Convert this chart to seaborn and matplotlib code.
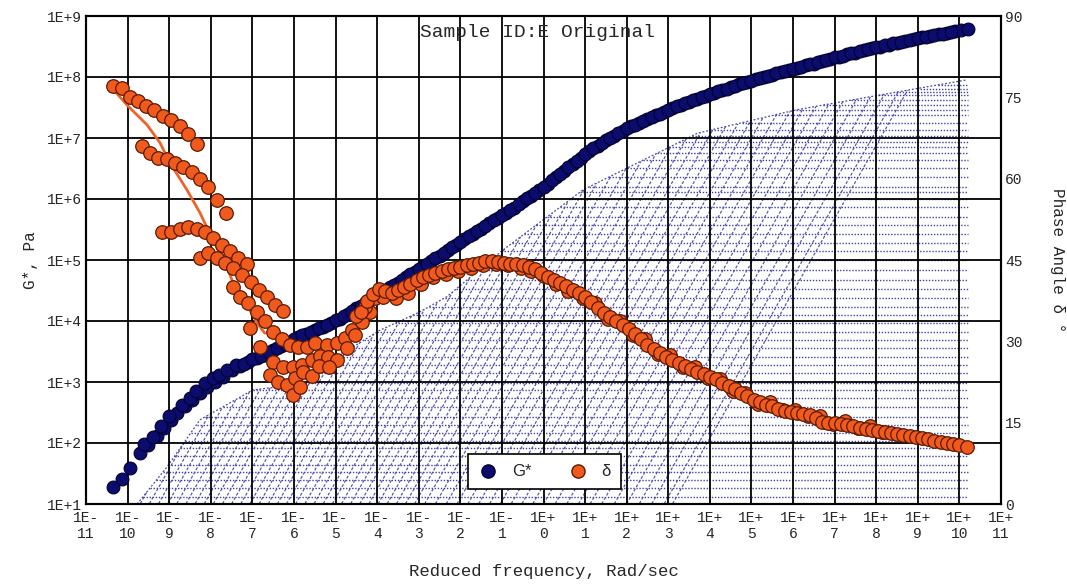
import numpy as np
import matplotlib
matplotlib.use("Agg")
import matplotlib.pyplot as plt
from matplotlib.lines import Line2D
import seaborn as sns
import pandas as pd

# ---------------- data (log10 values) ----------------
gstar_logf = [-10.35, -10.13, -9.94, -9.70, -9.50, -9.30, -9.12, -8.95, -8.80, -8.62,
              -8.45, -8.26, -8.08, -7.90, -7.70, -7.50, -7.30, -7.10, -6.90, -6.70,
              -6.50, -6.30, -6.10, -5.90, -5.70, -5.50, -5.30, -5.10, -4.90, -4.70,
              -4.50, -4.30, -4.10, -3.90, -3.70, -3.50, -3.30, -3.10, -2.90, -2.70,
              -2.50, -2.30, -2.10, -1.90, -1.70, -1.50, -1.30, -1.10, -0.90, -0.70,
              -0.50, -0.30, -0.10, 0.10, 0.30, 0.50, 0.70, 0.90, 1.10, 1.30,
              1.50, 1.70, 1.90, 2.10, 2.30, 2.50, 2.70, 2.90, 3.10, 3.30,
              3.50, 3.70, 3.90, 4.10, 4.30, 4.50, 4.70, 4.90, 5.10, 5.30,
              5.50, 5.70, 5.90, 6.10, 6.30, 6.50, 6.70, 6.90, 7.10, 7.30,
              7.50, 7.70, 7.90, 8.10, 8.30, 8.50, 8.70, 8.90, 9.10, 9.30,
              9.50, 9.70, 9.90, 10.05, 10.20]
gstar_logG = [1.28, 1.41, 1.59, 1.84, 1.97, 2.11, 2.24, 2.38, 2.50, 2.60,
              2.71, 2.82, 2.91, 3.00, 3.09, 3.19, 3.26, 3.32, 3.39, 3.45,
              3.52, 3.59, 3.66, 3.73, 3.79, 3.85, 3.90, 3.96, 4.04, 4.12,
              4.21, 4.29, 4.38, 4.46, 4.55, 4.63, 4.72, 4.81, 4.90, 4.98,
              5.07, 5.16, 5.25, 5.34, 5.43, 5.51, 5.60, 5.69, 5.77, 5.86,
              5.96, 6.05, 6.15, 6.25, 6.36, 6.46, 6.57, 6.68, 6.78, 6.87,
              6.96, 7.04, 7.12, 7.19, 7.25, 7.31, 7.37, 7.43, 7.49, 7.54,
              7.59, 7.64, 7.69, 7.74, 7.79, 7.83, 7.88, 7.92, 7.96, 8.00,
              8.04, 8.08, 8.11, 8.15, 8.19, 8.22, 8.26, 8.30, 8.33, 8.37,
              8.40, 8.44, 8.47, 8.50, 8.53, 8.56, 8.59, 8.62, 8.65, 8.67,
              8.70, 8.72, 8.75, 8.77, 8.79]
# second, overlapping row of G* measurements (other temperatures)
gstar2_logf = [-9.60, -9.40, -9.20, -9.00, -8.70, -8.50, -8.35, -8.15, -7.95, -7.80,
               -7.60, -7.40, -7.20, -7.00, -6.80, -6.60, -6.40, -6.20, -6.00, -5.80,
               -5.60, -5.40, -5.20, -5.00, -4.80, -4.60, -4.40, -4.20, -4.00, -3.80,
               -3.60, -3.40, -3.20, -3.00, -2.80, -2.60, -2.40, -2.20, -2.00, -1.80,
               -1.60, -1.40, -1.20, -1.00, -0.80, -0.60, -0.40, -0.20, 0.00, 0.20,
               0.40, 0.60, 0.80, 1.00, 1.20, 1.40, 1.60, 1.80, 2.00, 2.20,
               2.40, 2.60, 2.80, 3.00, 3.20, 3.40, 3.60, 3.80, 4.00, 4.20,
               4.40, 4.60, 4.80, 5.00, 5.20, 5.40, 5.60, 5.80, 6.00, 6.20,
               6.40, 6.60, 6.80, 7.00, 7.20, 7.40, 7.60, 7.80, 8.00, 8.20,
               8.40, 8.60, 8.80, 9.00, 9.20, 9.40, 9.60, 9.80]
gstar2_logG = [1.98, 2.10, 2.28, 2.45, 2.62, 2.74, 2.86, 2.98, 3.06, 3.12,
               3.20, 3.28, 3.30, 3.37, 3.43, 3.49, 3.56, 3.63, 3.70, 3.77,
               3.82, 3.88, 3.94, 4.01, 4.08, 4.17, 4.25, 4.34, 4.42, 4.51,
               4.59, 4.68, 4.77, 4.86, 4.94, 5.03, 5.12, 5.21, 5.30, 5.39,
               5.47, 5.56, 5.65, 5.73, 5.82, 5.91, 6.01, 6.10, 6.20, 6.31,
               6.41, 6.52, 6.63, 6.73, 6.83, 6.92, 7.00, 7.08, 7.16, 7.22,
               7.28, 7.34, 7.40, 7.46, 7.52, 7.57, 7.62, 7.67, 7.72, 7.77,
               7.81, 7.86, 7.90, 7.94, 7.98, 8.02, 8.06, 8.10, 8.13, 8.17,
               8.21, 8.24, 8.28, 8.32, 8.35, 8.39, 8.42, 8.46, 8.49, 8.52,
               8.55, 8.58, 8.61, 8.64, 8.66, 8.69, 8.71, 8.74]

# phase angle branches (log10 frequency, degrees)
dA_logf = [-10.35, -10.13, -9.94, -9.74, -9.56, -9.36, -9.15, -8.96, -8.74, -8.55, -8.33]
dA_deg = [77.1, 76.7, 75.1, 74.3, 73.4, 72.7, 71.6, 70.9, 69.8, 68.3, 66.4]
dB_logf = [-9.66, -9.47, -9.27, -9.05, -8.86, -8.67, -8.45, -8.26, -8.07, -7.85, -7.63]
dB_deg = [66.1, 64.8, 63.9, 63.7, 62.9, 62.2, 61.3, 60.0, 58.4, 56.1, 53.7]
dC_logf = [-9.17, -8.96, -8.74, -8.55, -8.33, -8.14, -7.94, -7.73, -7.54, -7.35, -7.13]
dC_deg = [50.2, 50.2, 50.8, 51.0, 50.8, 50.2, 49.1, 47.8, 46.6, 45.4, 44.2]
dD_logf = [-8.26, -8.07, -7.85, -7.66, -7.47, -7.25, -7.03, -6.84, -6.65, -6.46, -6.26]
dD_deg = [45.4, 46.2, 45.4, 44.5, 43.6, 42.3, 40.9, 39.4, 38.1, 36.7, 35.6]
dE_logf = [-7.47, -7.30, -7.11, -6.89, -6.70, -6.50, -6.29, -6.10, -5.90, -5.69,
           -5.50, -5.21, -4.97, -4.77, -4.61]
dE_deg = [40.0, 38.2, 37.1, 35.4, 33.7, 31.7, 30.4, 29.3, 29.0, 29.0,
          29.7, 29.3, 29.7, 30.6, 32.1]
dF_logf = [-7.06, -6.82, -6.50, -6.26, -6.02, -5.81, -5.57, -5.37, -5.18, -4.97,
           -4.73, -4.53, -4.37, -4.17]
dF_deg = [32.5, 29.0, 26.2, 25.3, 25.3, 25.6, 26.6, 27.3, 27.1, 26.6,
          28.8, 31.2, 33.6, 35.4]
dG_logf = [-6.58, -6.38, -6.17, -6.02, -5.98, -5.86, -5.78, -5.57, -5.40, -5.16]
dG_deg = [23.8, 22.5, 21.9, 20.1, 23.2, 21.6, 24.3, 23.6, 25.4, 25.3]
dH_logf = [-4.40, -4.25, -4.10, -3.95, -3.80, -3.65, -3.50, -3.35, -3.20, -3.05,
           -2.90, -2.75, -2.60, -2.45, -2.30, -2.15, -2.00, -1.85, -1.70, -1.55,
           -1.40, -1.25, -1.10, -0.95, -0.80, -0.65, -0.50, -0.35, -0.20, -0.05,
           0.10, 0.25, 0.40, 0.55, 0.70, 0.85, 1.00, 1.15, 1.30, 1.45,
           1.60, 1.75, 1.90, 2.05, 2.20, 2.35, 2.50, 2.65, 2.80, 2.95,
           3.10, 3.25, 3.40, 3.55, 3.70, 3.85, 4.00, 4.15, 4.30, 4.45,
           4.60, 4.75, 4.90, 5.05, 5.20, 5.35, 5.50, 5.65, 5.80, 5.95,
           6.10, 6.25, 6.40, 6.55, 6.70, 6.85, 7.00, 7.15, 7.30, 7.45,
           7.60, 7.75, 7.90, 8.05, 8.20, 8.35, 8.50, 8.65, 8.80, 8.95,
           9.10, 9.25, 9.40, 9.55, 9.70, 9.85, 10.00, 10.18]
dH_deg = [35.5, 37.5, 38.8, 39.6, 39.2, 38.9, 39.4, 40.0, 40.6, 41.3,
          41.8, 42.2, 42.6, 43.0, 43.3, 43.6, 43.8, 44.0, 44.2, 44.5,
          44.8, 44.9, 44.7, 44.5, 44.3, 44.2, 44.0, 43.8, 43.3, 42.6,
          41.9, 41.3, 40.8, 40.2, 39.5, 38.9, 38.2, 37.2, 36.1, 35.2,
          34.5, 33.8, 33.1, 32.2, 31.4, 30.5, 29.4, 28.6, 27.9, 27.2,
          26.6, 26.0, 25.4, 24.9, 24.4, 23.9, 23.4, 23.0, 22.4, 21.8,
          21.2, 20.5, 19.9, 19.2, 18.8, 18.3, 18.0, 17.6, 17.2, 17.0,
          16.8, 16.6, 16.4, 15.8, 15.2, 15.0, 15.0, 14.8, 14.6, 14.3,
          14.1, 13.9, 13.6, 13.4, 13.3, 13.1, 12.9, 12.8, 12.6, 12.4,
          12.2, 11.9, 11.6, 11.4, 11.3, 11.1, 10.8, 10.5]
dH2_logf = [-4.50, -4.30, -4.05, -3.85, -3.55, -3.25, -2.95, -2.65, -2.35, -2.05,
            -1.75, -1.45, -1.15, -0.85, -0.55, -0.30, 0.00, 0.30, 0.60, 0.95,
            1.25, 1.55, 1.85, 2.15, 2.45, 2.75, 3.05, 3.35, 3.65, 3.95,
            4.25, 4.55, 4.85, 5.15, 5.45, 5.75, 6.05, 6.35, 6.65, 6.95,
            7.25, 7.55, 7.85, 8.15]
dH2_deg = [34.6, 36.4, 38.0, 38.2, 38.0, 39.0, 40.6, 41.8, 42.5, 43.0,
           43.6, 44.0, 44.3, 44.0, 43.6, 43.0, 42.0, 40.6, 39.3, 38.0,
           37.0, 34.2, 33.8, 31.2, 30.5, 27.7, 27.4, 25.3, 25.2, 23.3,
           23.1, 20.9, 20.5, 18.5, 18.9, 17.3, 17.4, 16.2, 16.3, 14.7,
           15.3, 14.1, 14.4, 13.2]

# fitted phase-angle curve at low frequency
fit_logf = [-10.35, -9.99, -9.53, -9.22, -8.98, -8.57, -8.26, -7.95, -7.61, -7.37, -7.13, -6.89, -6.70]
fit_deg = [76.5, 73.4, 69.9, 66.6, 62.9, 57.9, 53.7, 48.7, 43.7, 38.9, 36.7, 33.4, 31.5]

# background mesh (upper envelope, horizontal levels, diagonal feet)
mesh_top_logf = [-9.77, -9.05, -8.26, -6.99, -6.02, -4.97, -3.93, -2.97, -2.32, -1.0, 0.95, 3.71, 6.07, 7.80, 10.15]
mesh_top_logG = [1.0, 1.61, 2.38, 2.87, 2.95, 3.41, 3.85, 4.15, 4.40, 5.15, 6.15, 7.08, 7.46, 7.67, 7.95]
mesh_levels = [1.11, 1.26, 1.39, 1.52, 1.64, 1.78, 1.92, 2.04, 2.16, 2.30, 2.43, 2.59, 2.74, 2.87,
               2.98, 3.15, 3.28, 3.41, 3.56, 3.69, 3.82, 3.96, 4.10, 4.23, 4.38, 4.52, 4.67, 4.84,
               5.00, 5.14, 5.28, 5.42, 5.57, 5.70, 5.87, 6.00, 6.11, 6.20, 6.36, 6.51, 6.64, 6.75,
               6.85, 6.93, 7.03, 7.13, 7.25, 7.38, 7.46, 7.54, 7.62, 7.70, 7.75, 7.81, 7.87]
mesh_diag_feet = [-9.70, -9.48, -9.26, -9.04, -8.82, -8.60, -8.38, -8.16, -7.94, -7.72,
                  -7.50, -7.28, -7.06, -6.84, -6.62, -6.40, -6.18, -5.96, -5.74, -5.52,
                  -5.30, -5.08, -4.86, -4.64, -4.42, -4.20, -3.98, -3.76, -3.54, -3.32,
                  -3.10, -2.86, -2.60, -2.34, -2.08, -1.82, -1.56, -1.30, -1.04, -0.78,
                  -0.52, -0.26, 0.00, 0.28, 0.56, 0.84, 1.12, 1.40, 1.70, 2.00,
                  2.30, 2.60, 2.90, 3.10]
mesh_diag_slope = 1.2
mesh_right = 10.2

x_tick_exp = list(range(-11, 12))
y_tick_exp = list(range(1, 10))
phase_ticks = [0, 15, 30, 45, 60, 75, 90]

# ---------------- style ----------------
sns.set_style("white")
plt.rcParams['font.family'] = ['Liberation Mono', 'DejaVu Sans Mono']
NAVY = '#0c0c6e'
NAVY_EDGE = '#02022e'
ORANGE = '#f05a1c'
ORANGE_EDGE = '#5a1a04'
MESH_H = '#2c2c9c'
MESH_D = '#4848a8'

fig = plt.figure(figsize=(10.67, 5.84), dpi=100)
ax = fig.add_axes([86/1067, 1-504/584, (1001-86)/1067, (504-16)/584])
ax.set_xscale('log')
ax.set_yscale('log')
ax.set_xlim(1e-11, 1e11)
ax.set_ylim(1e1, 1e9)

# ---- mesh ----
top_f = np.array(mesh_top_logf)
top_g = np.array(mesh_top_logG)
ax.plot(10**top_f, 10**top_g, color=MESH_D, lw=0.9, ls=(0, (1.5, 1.5)), zorder=1)
for lv in mesh_levels:
    x0 = np.interp(lv, top_g, top_f)
    ax.plot([10**x0, 10**mesh_right], [10**lv, 10**lv], color=MESH_H, lw=1.0,
            ls=(0, (1, 1.2)), alpha=0.9, zorder=1)
grid_f = np.linspace(top_f[0], mesh_right, 4000)
grid_top = np.interp(grid_f, top_f, top_g)
for ft in mesh_diag_feet:
    line_g = 1 + mesh_diag_slope * (grid_f - ft)
    ok = (grid_f >= ft) & (line_g <= grid_top)
    if not ok.any():
        continue
    xs = grid_f[ok]
    ax.plot(10**xs, 10**(1 + mesh_diag_slope * (xs - ft)), color=MESH_D, lw=0.85,
            ls=(0, (2.5, 1.6)), alpha=0.95, zorder=1)

# ---- G* ----
gdf = pd.DataFrame({'f': 10**np.array(gstar_logf + gstar2_logf),
                    'G': 10**np.array(gstar_logG + gstar2_logG)})
sns.scatterplot(data=gdf, x='f', y='G', ax=ax, color=NAVY, edgecolor=NAVY_EDGE,
                s=85, linewidth=0.8, zorder=5, legend=False)

# ---- phase angle ----
ax2 = ax.twinx()
fdf = pd.DataFrame({'f': 10**np.array(fit_logf), 'd': fit_deg})
sns.lineplot(data=fdf, x='f', y='d', ax=ax2, color='#ee6428', lw=2.0, zorder=3, legend=False)

d_logf = dA_logf + dB_logf + dC_logf + dD_logf + dE_logf + dF_logf + dG_logf + dH2_logf + dH_logf
d_deg = dA_deg + dB_deg + dC_deg + dD_deg + dE_deg + dF_deg + dG_deg + dH2_deg + dH_deg
ddf = pd.DataFrame({'f': 10**np.array(d_logf), 'd': d_deg})
sns.scatterplot(data=ddf, x='f', y='d', ax=ax2, color=ORANGE, edgecolor=ORANGE_EDGE,
                s=95, linewidth=0.9, zorder=5, legend=False)
ax2.set_ylim(0, 90)
ax2.set_yticks(phase_ticks)
ax2.set_yticklabels([str(v) for v in phase_ticks])
ax2.tick_params(axis='y', length=0, labelsize=10.5, pad=3)
ax2.grid(False)
for s in ax2.spines.values():
    s.set_color('black')
    s.set_linewidth(1.5)

# ---- axes, ticks & grid (set after all plotting) ----
ax.set_xlim(1e-11, 1e11)
ax.set_ylim(1e1, 1e9)
ax.set_xticks([10.0**k for k in x_tick_exp])
ax.set_xticklabels([("1E-\n%d" % -k) if k < 0 else ("1E+\n%d" % k) for k in x_tick_exp])
ax.set_yticks([10.0**k for k in y_tick_exp])
ax.set_yticklabels(["1E+%d" % k for k in y_tick_exp])
ax.xaxis.set_minor_locator(matplotlib.ticker.NullLocator())
ax.yaxis.set_minor_locator(matplotlib.ticker.NullLocator())
ax.grid(True, which='major', color='black', lw=1.3)
ax.set_axisbelow(False)
ax.tick_params(axis='both', length=0, labelsize=10.5)
ax.tick_params(axis='x', pad=5)
ax.tick_params(axis='y', pad=3)
for lab in ax.get_xticklabels():
    lab.set_linespacing(1.15)
for s in ax.spines.values():
    s.set_color('black')
    s.set_linewidth(1.5)

# ---- labels ----
ax2.set_xlabel('')
ax.set_xlabel('Reduced frequency, Rad/sec', fontsize=12.5)
ax.xaxis.set_label_coords(0.5, -0.139)
ax.xaxis.label.set_va('center')
ax.set_ylabel('G*, Pa', fontsize=11.5)
ax.yaxis.set_label_coords(-0.061, 0.5)
ax.yaxis.label.set_va('center')
ax2.set_ylabel('Phase Angle δ °', fontsize=11.5, rotation=270)
ax2.yaxis.set_label_coords(1.062, 0.5)
ax2.yaxis.label.set_va('center')
ax.text(0.493, 0.967, 'Sample ID:E Original', transform=ax.transAxes, ha='center',
        va='center', fontsize=14, zorder=10)

handles = [Line2D([], [], ls='', marker='o', markersize=9.5, markerfacecolor=NAVY,
                  markeredgecolor=NAVY_EDGE, label='G*'),
           Line2D([], [], ls='', marker='o', markersize=9.5, markerfacecolor=ORANGE,
                  markeredgecolor=ORANGE_EDGE, label='δ')]
leg = ax2.legend(handles=handles, ncol=2, loc='center', bbox_to_anchor=(0.501, 0.0656),
                 frameon=True, fancybox=False, framealpha=1, edgecolor='black',
                 prop={'family': ['Liberation Sans', 'DejaVu Sans'], 'size': 12},
                 handletextpad=0.8, columnspacing=2.2, borderpad=0.6, handlelength=1.2)
leg.get_frame().set_linewidth(1.2)
leg.set_zorder(20)

fig.savefig('out.png', dpi=100)
